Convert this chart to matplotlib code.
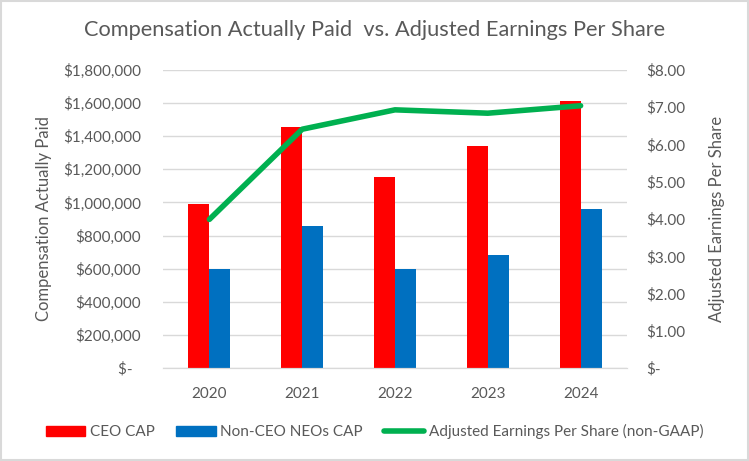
import matplotlib
matplotlib.use('Agg')
import matplotlib.pyplot as plt
from matplotlib.patches import Patch, Rectangle
from matplotlib.lines import Line2D
import numpy as np

plt.rcParams['font.family'] = ['Lato', 'DejaVu Sans']

years = ['2020', '2021', '2022', '2023', '2024']
ceo_cap = [990000, 1457000, 1154000, 1343000, 1611000]
neo_cap = [598000, 860000, 598000, 681000, 962000]
adj_eps = [3.99, 6.41, 6.93, 6.84, 7.04]

left_ticks = [0, 200000, 400000, 600000, 800000, 1000000, 1200000, 1400000, 1600000, 1800000]
left_labels = ['\\$-  '] + ['\\${:,.0f}'.format(v) for v in left_ticks[1:]]
right_ticks = [0, 1, 2, 3, 4, 5, 6, 7, 8]
right_labels = ['\\$-'] + ['\\${:.2f}'.format(v) for v in right_ticks[1:]]

red = '#ff0000'
blue = '#0070c0'
green = '#00b050'
txt = '#595959'

fig = plt.figure(figsize=(7.49, 4.61), dpi=100)
ax1 = fig.add_axes([0.2176, 0.2017, 0.6195, 0.6465])
ax2 = ax1.twinx()

x = np.arange(len(years))
w = 0.226
ax1.bar(x - w / 2, ceo_cap, width=w, color=red, zorder=2)
ax1.bar(x + w / 2, neo_cap, width=w, color=blue, zorder=2)
ax2.plot(x, adj_eps, color=green, linewidth=4, solid_capstyle='round', zorder=3)

ax1.set_xlim(-0.5, 4.5)
ax1.set_ylim(0, 1800000)
ax2.set_ylim(0, 8)
ax1.set_yticks(left_ticks)
ax1.set_yticklabels(left_labels)
ax2.set_yticks(right_ticks)
ax2.set_yticklabels(right_labels)
ax1.set_xticks(x)
ax1.set_xticklabels(years)

ax1.grid(axis='y', color='#d9d9d9', linewidth=1, zorder=0)
ax1.set_axisbelow(True)
for ax in (ax1, ax2):
    for s in ('top', 'left', 'right'):
        ax.spines[s].set_visible(False)
    ax.spines['bottom'].set_color('#d9d9d9')
    ax.tick_params(length=0, colors=txt, labelsize=11)
ax1.tick_params(axis='y', pad=16)
ax2.tick_params(axis='y', pad=14)
ax1.tick_params(axis='x', pad=14)

ax1.set_ylabel('Compensation Actually Paid', color=txt, fontsize=12, labelpad=8)
ax2.set_ylabel('Adjusted Earnings Per Share', color=txt, fontsize=12, labelpad=17)

fig.suptitle('Compensation Actually Paid  vs. Adjusted Earnings Per Share',
             x=0.5, y=0.957, fontsize=15.7, color=txt)

handles = [Patch(color=red), Patch(color=blue),
           Line2D([0], [0], color=green, linewidth=4, solid_capstyle='round')]
labels = ['CEO CAP', 'Non-CEO NEOs CAP', 'Adjusted Earnings Per Share (non-GAAP)']
fig.legend(handles, labels, loc='center', bbox_to_anchor=(0.5, 0.063), ncol=3,
           frameon=False, fontsize=11, labelcolor=txt, handlelength=2.6,
           handletextpad=0.3, columnspacing=1.4)

fig.add_artist(Rectangle((0.002, 0.003), 0.996, 0.994, transform=fig.transFigure,
                         fill=False, edgecolor='#d9d9d9', linewidth=1.5))

fig.savefig('out.png', dpi=100)
